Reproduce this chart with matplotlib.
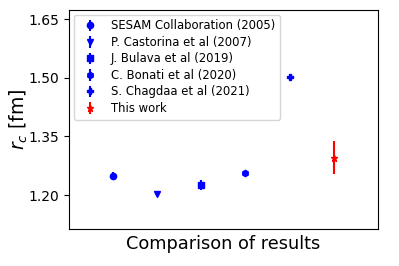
import matplotlib
matplotlib.use("Agg")
import matplotlib.pyplot as plt

labels = ["SESAM Collaboration (2005)", "P. Castorina et al (2007)", "J. Bulava et al (2019)",
          "C. Bonati et al (2020)", "S. Chagdaa et al (2021)", "This work"]
values = [1.248, 1.202, 1.225, 1.256, 1.501, 1.295]
errors = [0.010, 0.004, 0.013, 0.004, 0.004, 0.042]
markers = ["o", "v", "s", "h", "P", "*"]
colors = ["blue", "blue", "blue", "blue", "blue", "red"]

fig = plt.figure(figsize=(3.99, 2.66), dpi=100)
ax = fig.add_axes([0.173, 0.139, 0.774, 0.823])
for i, (lab, v, e, m, c) in enumerate(zip(labels, values, errors, markers, colors)):
    ax.errorbar(i + 1, v, yerr=e, fmt=m, color=c, ms=4.5, label=lab)
ax.set_xlim(0, 7)
ax.set_ylim(1.113, 1.673)
ax.set_yticks([1.20, 1.35, 1.50, 1.65])
ax.set_xticks([])
ax.tick_params(labelsize=10)
ax.set_ylabel(r"$r_c$ [fm]", fontsize=13.5, labelpad=-1)
ax.set_xlabel("Comparison of results", fontsize=12.8)
ax.legend(fontsize=8.4, loc="upper left", handletextpad=0.8, labelspacing=0.3,
          borderaxespad=0.4)
fig.savefig("out.png", dpi=100)
